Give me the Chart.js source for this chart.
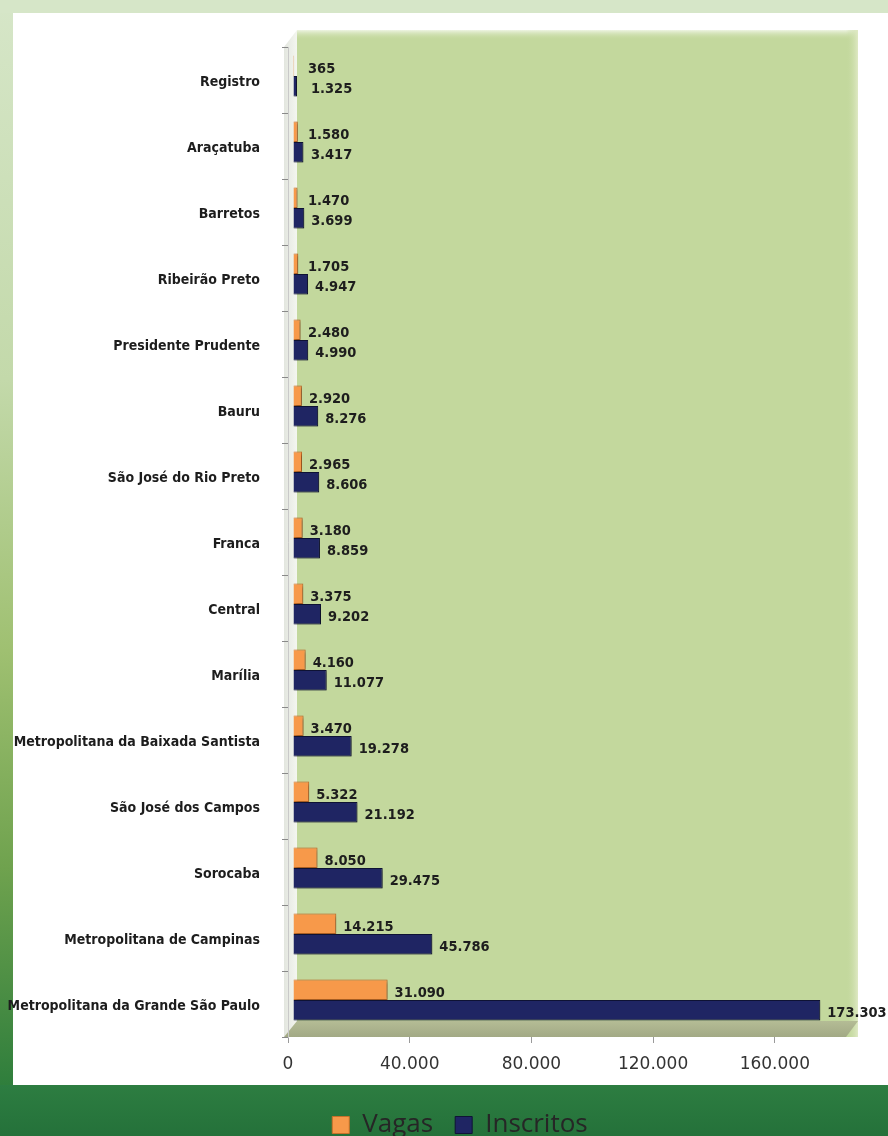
<!DOCTYPE html>
<html>
<head>
<meta charset="utf-8">
<script src="https://cdn.jsdelivr.net/npm/chart.js@4.4.1/dist/chart.umd.min.js"></script>
<style>
  html, body { margin: 0; padding: 0; width: 888px; height: 1136px; overflow: hidden; background: #d6e6c8; }
  #wrap { position: absolute; left: 0; top: 0; width: 888px; height: 1150px; }
</style>
</head>
<body>
<div id="wrap"><canvas id="c" width="888" height="1150"></canvas></div>
<script>
const categories = [
  "Registro", "Araçatuba", "Barretos", "Ribeirão Preto", "Presidente Prudente",
  "Bauru", "São José do Rio Preto", "Franca", "Central", "Marília",
  "Metropolitana da Baixada Santista", "São José dos Campos", "Sorocaba",
  "Metropolitana de Campinas", "Metropolitana da Grande São Paulo"
];
const vagas = [365, 1580, 1470, 1705, 2480, 2920, 2965, 3180, 3375, 4160, 3470, 5322, 8050, 14215, 31090];
const inscritos = [1325, 3417, 3699, 4947, 4990, 8276, 8606, 8859, 9202, 11077, 19278, 21192, 29475, 45786, 173303];
const xTicks = [0, 40000, 80000, 120000, 160000];
const seriesNames = ["Vagas", "Inscritos"];

const condFont = "'Liberation Sans Narrow', 'DejaVu Sans Condensed', 'Roboto Condensed', sans-serif";

function fmt(n) {
  return String(n).replace(/\B(?=(\d{3})+(?!\d))/g, ".");
}

const DX = 5, DY = -4;

const backgroundPlugin = {
  id: 'bg',
  afterLayout(chart) {
    if (chart.legend) { chart.legend.left += 30; chart.legend.right += 30; }
  },
  beforeDraw(chart) {
    const ctx = chart.ctx, W = chart.width, H = chart.height, ca = chart.chartArea;
    ctx.save();
    ctx.fillStyle = '#d6e6c8';
    ctx.fillRect(0, 0, W, H);
    // left strip gradient
    let g = ctx.createLinearGradient(0, 0, 0, 1085);
    g.addColorStop(0, '#d6e6c8');
    g.addColorStop(0.35, '#c3d9aa');
    g.addColorStop(0.6, '#9fc071');
    g.addColorStop(0.8, '#6fa24e');
    g.addColorStop(1, '#2f7e3c');
    ctx.fillStyle = g;
    ctx.fillRect(0, 13, 13, 1072);
    // white panel
    ctx.fillStyle = '#ffffff';
    ctx.fillRect(13, 13, W - 13, 1072);
    // bottom band
    g = ctx.createLinearGradient(0, 1085, 0, 1150);
    g.addColorStop(0, '#2d7d41');
    g.addColorStop(1, '#226e38');
    ctx.fillStyle = g;
    ctx.fillRect(0, 1085, W, H - 1085);

    // 3D walls
    const wallL = ca.left + 9, wallR = 858, wallT = 30;
    // back wall
    ctx.fillStyle = '#c3d89d';
    ctx.fillRect(wallL, wallT, wallR - wallL, ca.bottom - wallT);
    g = ctx.createLinearGradient(0, wallT, 0, wallT + 10);
    g.addColorStop(0, '#eef4e2');
    g.addColorStop(1, 'rgba(195,216,157,0)');
    ctx.fillStyle = g;
    ctx.fillRect(wallL, wallT, wallR - wallL, 10);
    g = ctx.createLinearGradient(wallR - 12, 0, wallR, 0);
    g.addColorStop(0, 'rgba(195,216,157,0)');
    g.addColorStop(1, '#dfe9c4');
    ctx.fillStyle = g;
    ctx.fillRect(wallR - 12, wallT, 12, ca.bottom - wallT);
    // left side wall
    g = ctx.createLinearGradient(ca.left - 4, 0, wallL, 0);
    g.addColorStop(0, '#e3e6df');
    g.addColorStop(1, '#f4f6ef');
    ctx.fillStyle = g;
    ctx.beginPath();
    ctx.moveTo(ca.left - 4, ca.top);
    ctx.lineTo(wallL, wallT);
    ctx.lineTo(wallL, ca.bottom - 14);
    ctx.lineTo(ca.left - 4, ca.bottom);
    ctx.closePath();
    ctx.fill();
    // floor
    g = ctx.createLinearGradient(0, ca.bottom - 16, 0, ca.bottom);
    g.addColorStop(0, '#b4bc95');
    g.addColorStop(1, '#a2a985');
    ctx.fillStyle = g;
    ctx.beginPath();
    ctx.moveTo(wallL, ca.bottom - 16);
    ctx.lineTo(wallR, ca.bottom - 16);
    ctx.lineTo(wallR - 12, ca.bottom);
    ctx.lineTo(ca.left - 4, ca.bottom);
    ctx.closePath();
    ctx.fill();
    ctx.restore();
  }
};

const shiftAndLabels = {
  id: 'shiftLabels',
  beforeDatasetsDraw(chart) {
    const ctx = chart.ctx;
    ctx.save();
    ctx.translate(DX, DY);
    ctx.shadowColor = 'rgba(0,0,0,0.35)';
    ctx.shadowOffsetX = 2;
    ctx.shadowOffsetY = 1;
    ctx.shadowBlur = 3;
  },
  afterDatasetsDraw(chart) {
    const ctx = chart.ctx;
    ctx.restore();
    ctx.save();
    ctx.font = "bold 14.5px " + condFont;
    ctx.fillStyle = '#1d1d1d';
    ctx.textAlign = 'left';
    ctx.textBaseline = 'middle';
    chart.data.datasets.forEach((ds, di) => {
      const meta = chart.getDatasetMeta(di);
      meta.data.forEach((el, i) => {
        const x = Math.max(el.x + DX + 7, chart.chartArea.left + 20 + di * 3);
        ctx.fillText(fmt(ds.data[i]), x, el.y + DY + 3);
      });
    });
    ctx.restore();
  }
};

new Chart(document.getElementById('c'), {
  type: 'bar',
  data: {
    labels: categories,
    datasets: [
      { label: seriesNames[0], data: vagas, backgroundColor: '#f7994a', borderColor: '#c9702a', borderWidth: 1,
        categoryPercentage: 0.62, barPercentage: 1 },
      { label: seriesNames[1], data: inscritos, backgroundColor: '#1f2563', borderColor: '#0f1336', borderWidth: 1,
        categoryPercentage: 0.62, barPercentage: 1 }
    ]
  },
  options: {
    indexAxis: 'y',
    responsive: false,
    animation: false,
    devicePixelRatio: 1,
    layout: { padding: { left: 0, right: 28, top: 47, bottom: 2 } },
    scales: {
      x: {
        min: 0, max: 188000,
        afterFit(scale) { scale.height = 53; },
        afterBuildTicks(scale) { scale.ticks = xTicks.map(v => ({ value: v })); },
        grid: { drawOnChartArea: false, tickLength: 6, color: '#9a9a9a' },
        border: { display: false },
        ticks: {
          padding: 11,
          color: '#333333',
          font: { family: "'DejaVu Sans', sans-serif", size: 17 },
          callback: v => fmt(v)
        }
      },
      y: {
        afterFit(scale) { scale.width = 288; },
        grid: { drawOnChartArea: false, tickLength: 6, color: '#8a8a8a', offset: true },
        border: { display: true, color: '#c9c9c9' },
        ticks: {
          padding: 22,
          labelOffset: 2,
          color: '#1d1d1d',
          font: { family: condFont, size: 14, weight: 'bold' }
        }
      }
    },
    plugins: {
      legend: {
        position: 'bottom',
        labels: {
          boxWidth: 17, boxHeight: 17, padding: 22,
          color: '#262626',
          font: { family: "'Open Sans', 'Noto Sans', sans-serif", size: 26 }
        }
      },
      tooltip: { enabled: false }
    }
  },
  plugins: [backgroundPlugin, shiftAndLabels]
});
</script>
</body>
</html>
